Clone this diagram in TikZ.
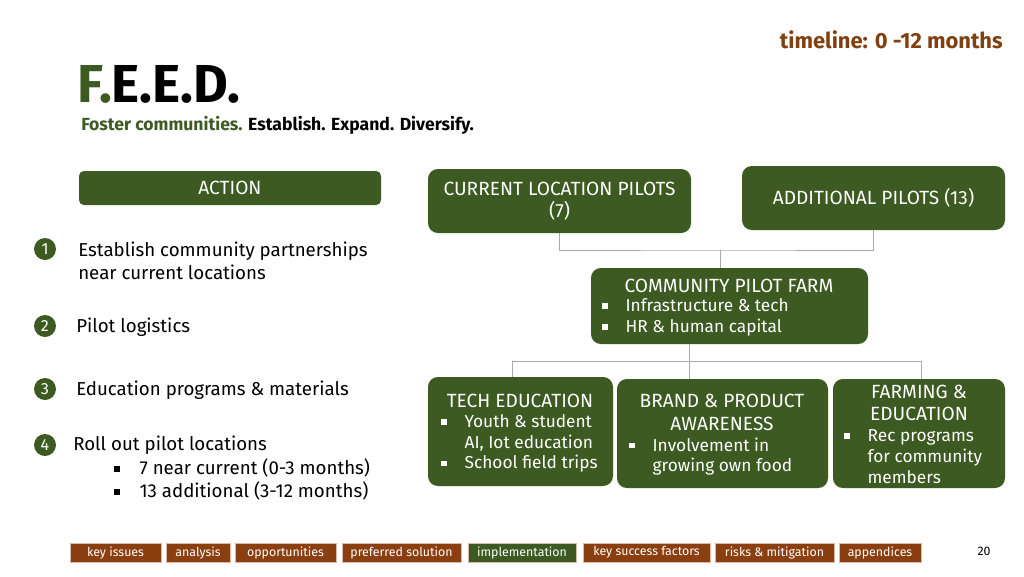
\documentclass[tikz,border=0pt]{standalone}
\usepackage{fontspec}
\setmainfont{Fira Sans}
\usetikzlibrary{fit}
\definecolor{feedgreen}{RGB}{60,90,33}
\definecolor{feedbrown}{RGB}{139,62,15}
\definecolor{timebrown}{RGB}{128,64,16}
\definecolor{conngray}{RGB}{170,170,170}
\newcommand\itm{\makebox[1.35em][l]{\raisebox{0.3ex}{\rule{0.32em}{0.32em}}}}
\newcommand\ind{\hspace*{1.35em}}
\tikzset{
  box/.style={fill=feedgreen, rounded corners=7pt, inner sep=0pt},
  boxlbl/.style={text=white, inner sep=0pt, align=center, font=\fontsize{13.6}{15.8}\selectfont},
  boxtxt/.style={text=white, inner sep=0pt, align=left, font=\fontsize{12.3}{14.8}\selectfont},
  numdot/.style={circle, fill=feedgreen, minimum size=22*0.25mm, inner sep=0pt, text=white,
    font=\fontsize{11.5}{11.5}\selectfont},
  leftxt/.style={anchor=west, inner sep=0pt, align=left, font=\fontsize{13.3}{16.4}\selectfont},
  tabbox/.style={draw=feedbrown!35!white, line width=0.4pt, inner sep=0pt},
  tablbl/.style={inner sep=0pt, text=white, font=\fontsize{8.8}{8.8}\selectfont},
  conn/.style={draw=conngray, line width=0.6pt}
}
\begin{document}
\begin{tikzpicture}[x=0.25mm, y=-0.25mm, line join=round, line cap=round]
  \useasboundingbox (0,0) rectangle (1024,576);
  % header
  \node[anchor=east, inner sep=0pt, text=timebrown, font=\fontsize{15.6}{15.6}\selectfont\bfseries] (time) at (1003,40) {timeline: 0 -12 months};
  \node[anchor=west, inner sep=0pt, font=\fontsize{38}{38}\selectfont\bfseries] (title) at (77,84) {\textcolor{feedgreen}{F.}E.E.D.};
  \node[anchor=west, inner sep=0pt, font=\fontsize{12.5}{12.5}\selectfont\bfseries] (sub) at (81,125) {\textcolor{feedgreen}{Foster communities.} Establish. Expand. Diversify.};
  % left column
  \node[box, rounded corners=3.5pt, fit={(79,171) (381,205)}] (action) {};
  \node[boxlbl] (actiont) at (action.center) {ACTION};
  \foreach \y [count=\i] in {249,326,389,445}
    \node[numdot] (n\i) at (45,\y) {\i};
  \node[leftxt] (t1) at (78,260.5) {Establish community partnerships\\near current locations};
  \node[leftxt] (t2) at (76,327) {Pilot logistics};
  \node[leftxt] (t3) at (76,390) {Education programs \& materials};
  \node[leftxt] (t4) at (73,445) {Roll out pilot locations};
  \node[leftxt] (t4b) at (114,479.5) {\itm 7 near current (0-3 months)\\\itm 13 additional (3-12 months)};
  % pilots
  \node[box, fit={(428,169) (691,233)}] (cur) {};
  \node[boxlbl] (curt) at (cur.center) {CURRENT LOCATION PILOTS\\(7)};
  \node[box, fit={(742,166) (1005,230)}] (add) {};
  \node[boxlbl] (addt) at (add.center) {ADDITIONAL PILOTS (13)};
  \node[box, fit={(591,268) (868,344)}] (farm) {};
  \node[boxlbl] (farmt) at (729,286) {COMMUNITY PILOT FARM};
  \node[boxtxt, anchor=west] (farmb) at (602,317.5) {\itm Infrastructure \& tech\\\itm HR \& human capital};
  % programs
  \node[box, fit={(428,377) (613,486)}] (tech) {};
  \node[boxlbl] (techt) at (520,401) {TECH EDUCATION};
  \node[boxtxt, anchor=west] (techb) at (441,443.5) {\itm Youth \& student\\\ind AI, Iot education\\\itm School field trips};
  \node[box, fit={(617,379) (828,488)}] (brand) {};
  \node[boxlbl] (brandt) at (722,412.5) {BRAND \& PRODUCT\\AWARENESS};
  \node[boxtxt, anchor=west] (brandb) at (629,456.5) {\itm Involvement in\\\ind growing own food};
  \node[box, fit={(833,379) (1005,488)}] (farming) {};
  \node[boxlbl] (farmingt) at (919,403) {FARMING \&\\EDUCATION};
  \node[boxtxt, anchor=west] (farmingb) at (844,456.5) {\itm Rec programs\\\ind for community\\\ind members};
  % connectors
  \coordinate (j1) at (720,250);
  \draw[conn] (cur.south) |- (j1) -| (add.south);
  \draw[conn] (j1) -- (j1 |- farm.north);
  \coordinate (j2) at (689,361);
  \coordinate (b1) at (512,361);
  \coordinate (b3) at (921,361);
  \draw[conn] (j2 |- farm.south) -- (j2);
  \draw[conn] (b1) -- (b3);
  \draw[conn] (b1) -- (b1 |- tech.north);
  \draw[conn] (j2) -- (j2 |- brand.north);
  \draw[conn] (b3) -- (b3 |- farming.north);
  % footer tabs
  \foreach \xa/\xb/\col/\txt [count=\i] in {70/161/feedbrown/key issues, 166/230/feedbrown/analysis,
      235/336/feedbrown/opportunities, 342/461/feedbrown/preferred solution,
      468/576/feedgreen/implementation, 583/710/feedbrown/key success factors,
      715/834/feedbrown/risks \& mitigation, 839/921/feedbrown/appendices}{
    \node[tabbox, fill=\col, fit={(\xa,543) (\xb,562)}] (tab\i) {};
    \node[tablbl] (tabt\i) at (tab\i.center) {\txt};
  }
  \node[inner sep=0pt, font=\fontsize{8.8}{8.8}\selectfont] (page) at (984,551) {20};
\end{tikzpicture}
\end{document}
